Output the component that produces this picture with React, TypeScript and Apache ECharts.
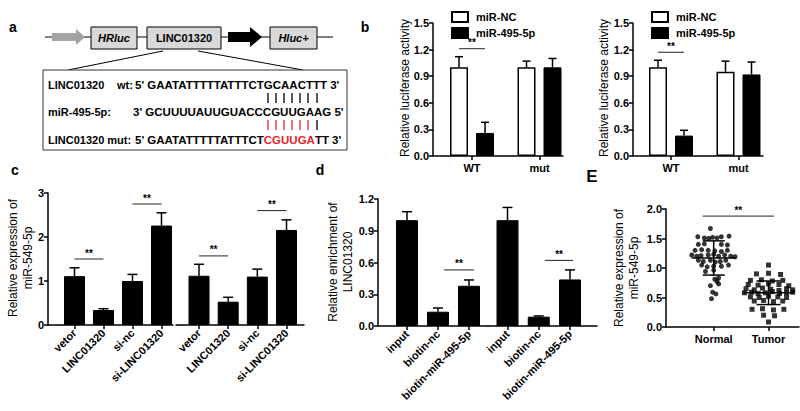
import React, { useEffect, useRef } from "react";
import * as echarts from "echarts";

const FONT = '"Liberation Sans", Arial, Helvetica, sans-serif';
const RED = "#e3262d";

// ---------- panel b ----------
const bGroups = ["WT", "mut"];
const bLeftNC = [1.0, 1.0];
const bLeftNCErr = [1.12, 1.07];
const bLeftMiR = [0.26, 1.0];
const bLeftMiRErr = [0.38, 1.1];
const bRightNC = [1.0, 0.95];
const bRightNCErr = [1.08, 1.07];
const bRightMiR = [0.23, 0.92];
const bRightMiRErr = [0.29, 1.06];
const bLeftSig = [[1, 1, 1.21]];
const bRightSig = [[1, 1, 1.17]];

// ---------- panel c ----------
const cCategories = ["vetor", "LINC01320", "si-nc", "si-LINC01320"];
const c1Values = [1.11, 0.34, 1.0, 2.26];
const c1Err = [1.3, 0.37, 1.15, 2.55];
const c2Values = [1.12, 0.53, 1.1, 2.16];
const c2Err = [1.38, 0.63, 1.27, 2.39];
const c1Sig = [[1, 2, 1.5], [3, 4, 2.75]];
const c2Sig = [[1, 2, 1.57], [3, 4, 2.6]];

// ---------- panel d ----------
const dCategories = ["input", "biotin-nc", "biotin-miR-495-5p"];
const d1Values = [1.0, 0.135, 0.38];
const d1Err = [1.08, 0.17, 0.435];
const d2Values = [1.0, 0.088, 0.44];
const d2Err = [1.12, 0.095, 0.53];
const d1Sig = [[2.19, 3.16, 0.53]];
const d2Sig = [[2.2, 3.1, 0.62]];

// ---------- panel E ----------
const eCategories = ["Normal", "Tumor"];
const normalValues = [
  1.67, 1.53, 1.51, 1.5, 1.52, 1.51, 1.53, 1.54, 1.4, 1.41, 1.4, 1.39, 1.3, 1.31, 1.3, 1.29, 1.28, 1.3,
  1.22, 1.2, 1.21, 1.22, 1.23, 1.2, 1.22, 1.2, 1.19, 1.13, 1.11, 1.13, 1.1, 1.11, 1.13, 1.05, 1.02, 1.03,
  1.03, 1.05, 0.94, 0.96, 0.83, 0.81, 0.77, 0.73, 0.7, 0.59, 0.56, 0.48,
];
const normalJitter = [
  -0.06, -0.29, -0.17, -0.09, -0.02, 0.06, 0.14, 0.28, -0.28, -0.17, 0.14, 0.25, -0.34, -0.22, -0.1, 0.02,
  0.14, 0.25, -0.4, -0.31, -0.23, -0.1, 0.0, 0.09, 0.2, 0.31, 0.39, -0.28, -0.19, -0.06, 0.03, 0.12, 0.22,
  -0.22, -0.12, 0.0, 0.14, 0.27, -0.15, 0.0, 0.09, 0.02, 0.06, 0.09, -0.06, -0.02, 0.04, -0.04,
];
const tumorValues = [
  1.05, 0.9, 0.91, 0.89, 0.79, 0.8, 0.78, 0.79, 0.72, 0.71, 0.73, 0.72, 0.7, 0.65, 0.63, 0.66, 0.64, 0.62,
  0.65, 0.63, 0.58, 0.59, 0.57, 0.58, 0.6, 0.57, 0.58, 0.59, 0.51, 0.5, 0.52, 0.51, 0.5, 0.44, 0.45, 0.43,
  0.44, 0.3, 0.31, 0.29, 0.3, 0.2, 0.19, 0.085,
];
const tumorJitter = [
  0, -0.22, 0, 0.22, -0.33, -0.13, 0.07, 0.26, -0.37, -0.19, 0, 0.19, 0.37, -0.41, -0.26, -0.11, 0.04, 0.19,
  0.33, 0.44, -0.44, -0.31, -0.19, -0.06, 0.07, 0.2, 0.33, 0.44, -0.33, -0.17, 0, 0.17, 0.33, -0.26, -0.09,
  0.09, 0.26, -0.3, -0.11, 0.09, 0.28, -0.09, 0.11, 0,
];
const eSummary = [
  [1, 1.17, 0.29],
  [2, 0.58, 0.2],
];
const eSig = [[0.8, 2.1, 1.88]];

// ---------- helpers ----------
const axisLine = { show: true, onZero: false, lineStyle: { color: "#000", width: 1.5 } };
const tickStyle = { color: "#000", width: 1.5 };

function yAxis(gridIndex: number, min: number, max: number, interval: number, decimals: number, show = true) {
  return {
    type: "value",
    gridIndex,
    min,
    max,
    interval,
    show,
    axisLine,
    axisTick: { show: true, length: 4, lineStyle: tickStyle },
    axisLabel: {
      color: "#000",
      fontFamily: FONT,
      fontWeight: "bold",
      fontSize: 11,
      margin: 4,
      formatter: (v: number) => v.toFixed(decimals),
    },
    splitLine: { show: false },
  };
}

function xAxis(gridIndex: number, min: number, max: number, labels: string[], rotate: number, fontSize: number, margin: number) {
  const ticks = labels.map((_, i) => i + 1);
  return {
    type: "value",
    gridIndex,
    min,
    max,
    axisLine,
    axisTick: { show: true, length: 4, customValues: ticks, lineStyle: tickStyle },
    axisLabel: {
      customValues: ticks,
      rotate,
      margin,
      color: "#000",
      fontFamily: FONT,
      fontWeight: "bold",
      fontSize,
      formatter: (v: number) => labels[Math.round(v) - 1] ?? "",
    },
    splitLine: { show: false },
  };
}

function errorRender(offsetPx: number, capHalf: number) {
  return (_p: any, api: any) => {
    const x = api.value(0);
    const top = api.coord([x, api.value(1)]);
    const end = api.coord([x, api.value(2)]);
    const cx = top[0] + offsetPx;
    const st = { stroke: "#000", lineWidth: 1.5 };
    return {
      type: "group",
      children: [
        { type: "line", shape: { x1: cx, y1: top[1], x2: cx, y2: end[1] }, style: st },
        { type: "line", shape: { x1: cx - capHalf, y1: end[1], x2: cx + capHalf, y2: end[1] }, style: st },
      ],
    };
  };
}

function sigRender(halfPx: number) {
  return (_p: any, api: any) => {
    const a = api.coord([api.value(0), api.value(2)]);
    const b = api.coord([api.value(1), api.value(2)]);
    const x1 = a[0] - halfPx;
    const x2 = b[0] + halfPx;
    return {
      type: "group",
      children: [
        { type: "line", shape: { x1, y1: a[1], x2, y2: a[1] }, style: { stroke: "#222", lineWidth: 1 } },
        {
          type: "text",
          x: (x1 + x2) / 2,
          y: a[1] - 1,
          style: {
            text: "**",
            font: `bold 10px ${FONT}`,
            fill: "#000",
            textFill: "#000",
            textAlign: "center",
            align: "center",
            textVerticalAlign: "bottom",
            verticalAlign: "bottom",
          },
        },
      ],
    };
  };
}

function meanSdRender(_p: any, api: any) {
  const x = api.value(0);
  const m = api.value(1);
  const sd = api.value(2);
  const pm = api.coord([x, m]);
  const pt = api.coord([x, m + sd]);
  const pb = api.coord([x, m - sd]);
  const meanHalf = x < 1.5 ? 22 : 25;
  const sdHalf = x < 1.5 ? 11 : 12;
  const st = { stroke: "#000", lineWidth: 1.5 };
  return {
    type: "group",
    children: [
      { type: "line", shape: { x1: pm[0] - meanHalf, y1: pm[1], x2: pm[0] + meanHalf, y2: pm[1] }, style: st },
      { type: "line", shape: { x1: pt[0], y1: pt[1], x2: pb[0], y2: pb[1] }, style: st },
      { type: "line", shape: { x1: pt[0] - sdHalf, y1: pt[1], x2: pt[0] + sdHalf, y2: pt[1] }, style: st },
      { type: "line", shape: { x1: pb[0] - sdHalf, y1: pb[1], x2: pb[0] + sdHalf, y2: pb[1] }, style: st },
    ],
  };
}

function text(x: number, y: number, t: string, font: string, align = "left", extra: any = {}) {
  return {
    type: "text",
    x,
    y,
    ...extra,
    style: {
      text: t,
      font,
      fill: "#000",
      textAlign: align,
      align,
      textVerticalAlign: "middle",
      verticalAlign: "middle",
      ...(extra.style || {}),
    },
  };
}

function vTitle(x: number, y: number, t: string) {
  return {
    type: "text",
    x,
    y,
    rotation: Math.PI / 2,
    style: {
      text: t,
      font: `12px ${FONT}`,
      fill: "#000",
      textAlign: "center",
      align: "center",
      textVerticalAlign: "middle",
      verticalAlign: "middle",
      lineHeight: 15,
    },
  };
}

function buildOption() {
  const BW = 18;
  const BGAP = 8;
  const off = (BW + BGAP) / 2;
  const SEQ = `bold 11.5px ${FONT}`;
  const LBL = `bold 11px ${FONT}`;
  const BOX = { fill: "#d9d9d9", stroke: "#000", lineWidth: 1 };
  const pairX = [268, 276, 284, 292, 300, 308, 317];

  const graphic: any[] = [
    // panel letters
    text(13, 27, "a", `bold 14px ${FONT}`, "center"),
    text(365, 27, "b", `bold 14px ${FONT}`, "center"),
    text(15, 170, "c", `bold 14px ${FONT}`, "center"),
    text(320, 170, "d", `bold 14px ${FONT}`, "center"),
    text(592, 176, "E", `bold 17px ${FONT}`, "center"),
    // panel a construct
    { type: "line", shape: { x1: 45, y1: 37, x2: 333, y2: 37 }, style: { stroke: "#000", lineWidth: 1 } },
    {
      type: "polygon",
      shape: { points: [[52, 33], [76, 33], [76, 29], [85, 37], [76, 45], [76, 41], [52, 41]] },
      style: { fill: "#a3a3a3" },
    },
    { type: "rect", shape: { x: 91, y: 27, width: 46, height: 22 }, style: BOX },
    text(114, 38, "HRluc", `italic bold 11px ${FONT}`, "center"),
    { type: "rect", shape: { x: 147, y: 27, width: 74, height: 22 }, style: BOX },
    text(184, 38, "LINC01320", `bold 11px ${FONT}`, "center"),
    {
      type: "polygon",
      shape: { points: [[228, 32], [250, 32], [250, 27], [262, 37], [250, 47], [250, 42], [228, 42]] },
      style: { fill: "#000" },
    },
    { type: "rect", shape: { x: 270, y: 27, width: 47, height: 22 }, style: BOX },
    text(293.5, 38, "Hluc+", `italic bold 11px ${FONT}`, "center"),
    { type: "line", shape: { x1: 163, y1: 51, x2: 68, y2: 70 }, style: { stroke: "#000", lineWidth: 1 } },
    { type: "line", shape: { x1: 198, y1: 51, x2: 303, y2: 70 }, style: { stroke: "#000", lineWidth: 1 } },
    { type: "rect", shape: { x: 43, y: 70, width: 304, height: 80 }, style: { fill: "#fff", stroke: "#333", lineWidth: 1 } },
    text(48, 85, "LINC01320", LBL),
    text(117, 85, "wt:", LBL),
    text(135, 85, "5' GAATATTTTTATTTCTGCAACTTT 3'", SEQ),
    text(48, 112, "miR-495-5p:", LBL),
    text(133, 112, "3' GCUUUUAUUGUACCCGUUGAAG 5'", SEQ),
    text(48, 140, "LINC01320 mut:", LBL),
    {
      type: "text",
      x: 135,
      y: 140,
      style: {
        text: "{k|5' GAATATTTTTATTTCT}{r|CGUUGA}{k|TT 3'}",
        font: SEQ,
        fill: "#000",
        textVerticalAlign: "middle",
        verticalAlign: "middle",
        rich: {
          k: { font: SEQ, fill: "#000", color: "#000" },
          r: { font: SEQ, fill: RED, color: RED },
        },
      },
    },
    ...pairX.map((x) => ({
      type: "line",
      shape: { x1: x, y1: 93, x2: x, y2: 103 },
      style: { stroke: "#000", lineWidth: 1.3 },
    })),
    ...pairX.map((x, i) => ({
      type: "line",
      shape: { x1: x, y1: 120, x2: x, y2: 130 },
      style: { stroke: i < 6 ? RED : "#000", lineWidth: 1.3 },
    })),
    // axis titles
    vTitle(405, 88, "Relative luciferase activity"),
    vTitle(604, 88, "Relative luciferase activity"),
    vTitle(20.5, 258, "Relative expression of\nmiR-549-5p"),
    vTitle(340.5, 262, "Relative enrichment of\nLINC01320"),
    vTitle(626.5, 268, "Relative expression of\nmiR-549-5p"),
  ];

  const legendBase = {
    orient: "vertical",
    top: 6,
    itemWidth: 16,
    itemHeight: 10,
    itemGap: 4,
    icon: "rect",
    selectedMode: false,
    data: ["miR-NC", "miR-495-5p"],
    textStyle: { fontFamily: FONT, fontWeight: "bold", fontSize: 11, color: "#000", padding: [0, 0, 0, 3] },
  };

  const whiteBar = { color: "#fff", borderColor: "#000", borderWidth: 1.5 };
  const blackBar = { color: "#000", borderColor: "#000", borderWidth: 1 };

  const pts = (vals: number[], pos = 0) => vals.map((v, i) => [i + 1 + pos, v]);
  const errs = (vals: number[], e: number[]) => vals.map((v, i) => [i + 1, v, e[i]]);

  const series: any[] = [
    // b left
    { type: "bar", name: "miR-NC", xAxisIndex: 0, yAxisIndex: 0, data: pts(bLeftNC), barWidth: BW, barGap: `${(BGAP / BW) * 100}%`, itemStyle: whiteBar },
    { type: "bar", name: "miR-495-5p", xAxisIndex: 0, yAxisIndex: 0, data: pts(bLeftMiR), barWidth: BW, itemStyle: blackBar },
    { type: "custom", xAxisIndex: 0, yAxisIndex: 0, data: errs(bLeftNC, bLeftNCErr), renderItem: errorRender(-off, 4) },
    { type: "custom", xAxisIndex: 0, yAxisIndex: 0, data: errs(bLeftMiR, bLeftMiRErr), renderItem: errorRender(off, 4) },
    { type: "custom", xAxisIndex: 0, yAxisIndex: 0, data: bLeftSig, renderItem: sigRender(off) },
    // b right
    { type: "bar", name: "miR-NC", xAxisIndex: 1, yAxisIndex: 1, data: pts(bRightNC), barWidth: BW, barGap: `${(BGAP / BW) * 100}%`, itemStyle: whiteBar },
    { type: "bar", name: "miR-495-5p", xAxisIndex: 1, yAxisIndex: 1, data: pts(bRightMiR), barWidth: BW, itemStyle: blackBar },
    { type: "custom", xAxisIndex: 1, yAxisIndex: 1, data: errs(bRightNC, bRightNCErr), renderItem: errorRender(-off, 4) },
    { type: "custom", xAxisIndex: 1, yAxisIndex: 1, data: errs(bRightMiR, bRightMiRErr), renderItem: errorRender(off, 4) },
    { type: "custom", xAxisIndex: 1, yAxisIndex: 1, data: bRightSig, renderItem: sigRender(off) },
    // c
    { type: "bar", xAxisIndex: 2, yAxisIndex: 2, data: pts(c1Values), barWidth: 21, itemStyle: blackBar },
    { type: "custom", xAxisIndex: 2, yAxisIndex: 2, data: errs(c1Values, c1Err), renderItem: errorRender(0, 5) },
    { type: "custom", xAxisIndex: 2, yAxisIndex: 2, data: c1Sig, renderItem: sigRender(0) },
    { type: "bar", xAxisIndex: 3, yAxisIndex: 3, data: pts(c2Values), barWidth: 21, itemStyle: blackBar },
    { type: "custom", xAxisIndex: 3, yAxisIndex: 3, data: errs(c2Values, c2Err), renderItem: errorRender(0, 5) },
    { type: "custom", xAxisIndex: 3, yAxisIndex: 3, data: c2Sig, renderItem: sigRender(0) },
    // d
    { type: "bar", xAxisIndex: 4, yAxisIndex: 4, data: pts(d1Values), barWidth: 22, itemStyle: blackBar },
    { type: "custom", xAxisIndex: 4, yAxisIndex: 4, data: errs(d1Values, d1Err), renderItem: errorRender(0, 5) },
    { type: "custom", xAxisIndex: 4, yAxisIndex: 4, data: d1Sig, renderItem: sigRender(0) },
    { type: "bar", xAxisIndex: 5, yAxisIndex: 5, data: pts(d2Values), barWidth: 22, itemStyle: blackBar },
    { type: "custom", xAxisIndex: 5, yAxisIndex: 5, data: errs(d2Values, d2Err), renderItem: errorRender(0, 5) },
    { type: "custom", xAxisIndex: 5, yAxisIndex: 5, data: d2Sig, renderItem: sigRender(0) },
    // E
    {
      type: "scatter",
      xAxisIndex: 6,
      yAxisIndex: 6,
      symbol: "circle",
      symbolSize: 5,
      itemStyle: { color: "#000" },
      data: normalValues.map((v, i) => [1 + normalJitter[i], v]),
    },
    {
      type: "scatter",
      xAxisIndex: 6,
      yAxisIndex: 6,
      symbol: "rect",
      symbolSize: 5,
      itemStyle: { color: "#000" },
      data: tumorValues.map((v, i) => [2 + tumorJitter[i], v]),
    },
    { type: "custom", xAxisIndex: 6, yAxisIndex: 6, data: eSummary, renderItem: meanSdRender, z: 5 },
    { type: "custom", xAxisIndex: 6, yAxisIndex: 6, data: eSig, renderItem: sigRender(0) },
  ];

  return {
    animation: false,
    backgroundColor: "#fff",
    textStyle: { fontFamily: FONT },
    color: ["#000"],
    legend: [
      { ...legendBase, left: 446 },
      { ...legendBase, left: 646 },
    ],
    grid: [
      { left: 433, top: 23, width: 130, height: 133 },
      { left: 633, top: 23, width: 130, height: 133 },
      { left: 48, top: 193, width: 125, height: 132 },
      { left: 176, top: 193, width: 128, height: 132 },
      { left: 378, top: 199, width: 110, height: 127 },
      { left: 488, top: 199, width: 109, height: 127 },
      { left: 666, top: 209, width: 133, height: 118 },
    ],
    xAxis: [
      xAxis(0, 0.422, 2.348, bGroups, 0, 11, 6),
      xAxis(1, 0.437, 2.363, bGroups, 0, 11, 6),
      xAxis(2, 0.086, 4.397, cCategories, 45, 11, 6),
      xAxis(3, 0.211, 4.6, cCategories, 45, 11, 6),
      xAxis(4, 0.0645, 3.613, dCategories, 45, 11, 6),
      xAxis(5, 0.376, 3.864, dCategories, 45, 11, 6),
      xAxis(6, 0.13, 2.556, eCategories, 0, 11, 6),
    ],
    yAxis: [
      yAxis(0, 0, 1.5, 0.3, 1),
      yAxis(1, 0, 1.5, 0.3, 1),
      yAxis(2, 0, 3, 1, 0),
      yAxis(3, 0, 3, 1, 0, false),
      yAxis(4, 0, 1.2, 0.3, 1),
      yAxis(5, 0, 1.2, 0.3, 1, false),
      yAxis(6, 0, 2, 0.5, 1),
    ],
    graphic,
    series,
  };
}

export default function App() {
  const ref = useRef<HTMLDivElement>(null);
  useEffect(() => {
    if (!ref.current) return;
    const chart = echarts.init(ref.current, null, { renderer: "svg" });
    chart.setOption(buildOption() as any);
    return () => chart.dispose();
  }, []);
  return (
    <div
      ref={ref}
      style={{ position: "fixed", left: 0, top: 0, width: 800, height: 411, background: "#fff" }}
    />
  );
}
